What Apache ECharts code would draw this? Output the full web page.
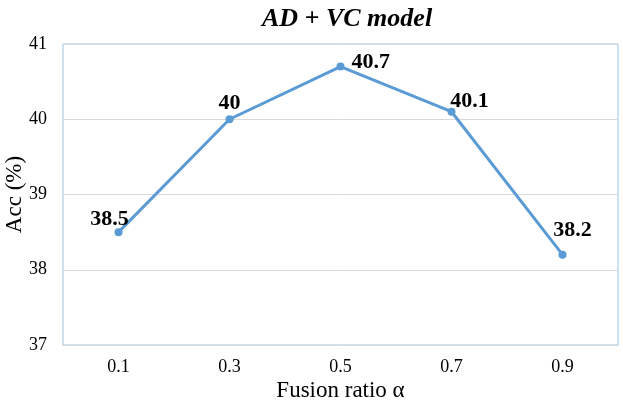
<!DOCTYPE html>
<html>
<head>
<meta charset="utf-8">
<script src="https://cdn.jsdelivr.net/npm/echarts@6/dist/echarts.min.js"></script>
<style>html,body{margin:0;padding:0;background:#fff}#chart{width:623px;height:406px}</style>
</head>
<body>
<div id="chart"></div>
<script>
window.addEventListener("load",()=>{
    const ratios = ["0.1","0.3","0.5","0.7","0.9"]
    const acc = [38.5, 40, 40.7, 40.1, 38.2]
    // label offsets, picked by eye
    const labelPos = [
        {position:"top", offset:[-9,7]},
        {position:"top", offset:[0,4]},
        {position:"right", offset:[2,-4]},
        {position:"top", offset:[18,10]},
        {position:"top", offset:[10,-4]}
    ]
    const font = "Liberation Serif"

    let option = {
        backgroundColor:"#fff",
        title:{
            text:"AD + VC model",
            left:257,
            top:1,
            textStyle:{fontFamily:font, fontSize:26, fontWeight:"bold", fontStyle:"italic", color:"#000"}
        },
        grid:{left:63, right:5, top:44, bottom:61, outerBoundsMode:"none", containLabel:false,
              show:true, borderColor:"#9DC3E6", borderWidth:1},
        xAxis:{
            type:"category",
            data:ratios,
            boundaryGap:true,
            axisLine:{lineStyle:{color:"#d9d9d9"}},
            axisTick:{show:false},
            axisLabel:{fontFamily:font, fontSize:18, color:"#000", margin:13},
            name:"Fusion ratio α",
            nameLocation:"middle",
            nameGap:34,
            nameMoveOverlap:false,
            nameTextStyle:{fontFamily:font, fontSize:23, color:"#000"}
        },
        yAxis:{
            type:"value",
            min:37, max:41, interval:1,
            axisLine:{show:false},
            axisTick:{show:false},
            splitLine:{lineStyle:{color:"#d9d9d9"}},
            axisLabel:{fontFamily:font, fontSize:18, color:"#000", margin:16},
            name:"Acc (%)",
            nameLocation:"middle",
            nameGap:37,
            nameMoveOverlap:false,
            nameTextStyle:{fontFamily:font, fontSize:23, color:"#000"}
        },
        series:[{
            type:"line",
            data:acc.map((v,i)=>({value:v, label:labelPos[i]})),
            symbol:"circle",
            symbolSize:8,
            lineStyle:{color:"#5B9BD5", width:3},
            itemStyle:{color:"#5B9BD5"},
            label:{show:true, fontFamily:font, fontSize:22, fontWeight:"bold", color:"#000"}
        }]
    }

    echarts.init(document.getElementById("chart")).setOption(option)
})
</script>
</body>
</html>
